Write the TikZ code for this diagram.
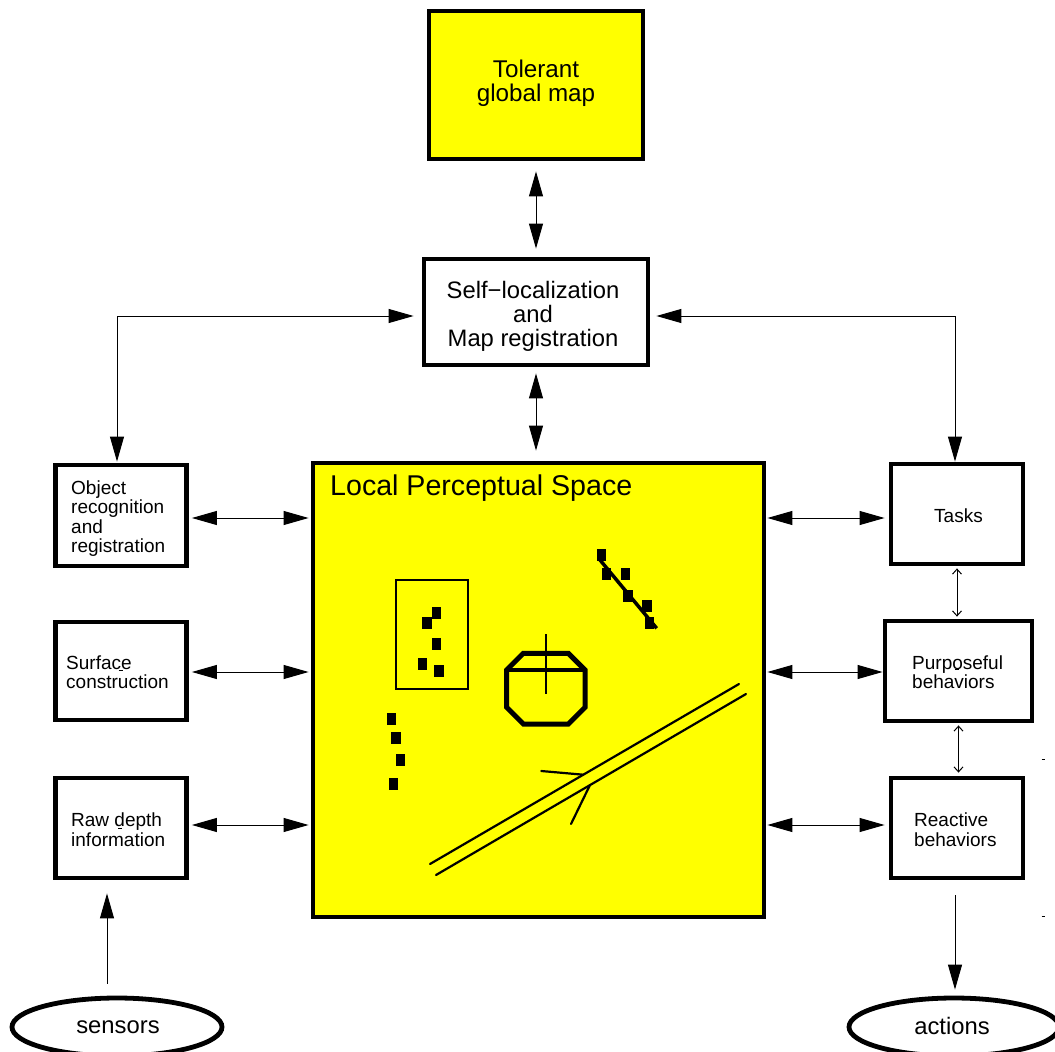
\documentclass[tikz,border=0pt]{standalone}
\usepackage{fontspec}
\setmainfont{Liberation Sans}
\usetikzlibrary{arrows.meta,shapes.geometric}
\definecolor{lpsyellow}{RGB}{255,255,0}
\newcommand{\txtsize}[2]{\fontsize{#1}{#2}\selectfont}
\tikzset{
  boxnode/.style={draw=black,line width=4.8,fill=white,inner sep=0,rectangle},
  yellowbox/.style={boxnode,fill=lpsyellow},
  ovalnode/.style={draw=black,line width=4.8,fill=white,inner sep=0,ellipse},
  txt/.style={inner sep=0,text=black,align=left,anchor=west},
  ctxt/.style={inner sep=0,text=black,align=center},
  bigdbl/.style={line width=1,{Stealth[length=25,width=14,inset=0]}-{Stealth[length=25,width=14,inset=0]}},
  bigone/.style={line width=1,-{Stealth[length=25,width=14,inset=0]}},
  smalldbl/.style={line width=1,{Straight Barb[length=5,width=9]}-{Straight Barb[length=5,width=9]}},
  grain/.style={fill=black,draw=none,minimum width=9.5,minimum height=12,inner sep=0,rectangle},
  wall/.style={line width=2.2,line cap=round},
  speck/.style={line width=1}
}
\begin{document}
\begin{tikzpicture}[x=1pt,y=-1pt]
\useasboundingbox (0,0) rectangle (1055,1052);
% boxes
\node[yellowbox,minimum width=214,minimum height=148] (tol) at (536,85) {};
\node[boxnode,minimum width=224,minimum height=106] (self) at (536,312) {};
\node[yellowbox,minimum width=451,minimum height=454] (lps) at (538.5,690) {};
\node[boxnode,minimum width=131,minimum height=101] (obj) at (121,515.5) {};
\node[boxnode,minimum width=131,minimum height=98] (surf) at (121,671) {};
\node[boxnode,minimum width=131,minimum height=100] (raw) at (121,828) {};
\node[boxnode,minimum width=132,minimum height=100] (tasks) at (957,514) {};
\node[boxnode,minimum width=147,minimum height=100] (purp) at (958.5,671) {};
\node[boxnode,minimum width=132,minimum height=100] (react) at (957,828) {};
\node[ovalnode,minimum width=210,minimum height=58] (sens) at (117,1027) {};
\node[ovalnode,minimum width=210,minimum height=58] (act) at (954,1027) {};
% texts
\node[ctxt,font=\txtsize{24.2}{24}] (toltxt) at (536,83.5) {Tolerant\\global map};
\node[ctxt,font=\txtsize{23.8}{24}] (selftxt) at (533,316) {Self−localization\\and\\Map registration};
\node[txt,font=\txtsize{28.6}{30}] (lpstxt) at (330,488) {Local Perceptual Space};
\node[txt,font=\txtsize{19}{19.4}] (objtxt) at (71,518.5) {Object\\recognition\\and\\registration};
\node[txt,font=\txtsize{19}{19.4}] (surftxt) at (66,672.5) {Surface\\construction};
\node[txt,font=\txtsize{19}{19.4}] (rawtxt) at (71,829.5) {Raw depth\\information};
\node[txt,font=\txtsize{19}{19.4}] (taskstxt) at (934,516) {Tasks};
\node[txt,font=\txtsize{19}{19.4}] (purptxt) at (912,672.5) {Purposeful\\behaviors};
\node[txt,font=\txtsize{19}{19.4}] (reacttxt) at (914,829.5) {Reactive\\behaviors};
\node[ctxt,font=\txtsize{23.8}{24}] (senstxt) at (118,1027) {sensors};
\node[ctxt,font=\txtsize{23.8}{24}] (acttxt) at (952,1026) {actions};
% vertical connectors
\draw[bigdbl,shorten <=10,shorten >=8] (536,0 |- tol.south) -- (536,0 |- self.north);
\draw[bigdbl,shorten <=6,shorten >=10] (536,0 |- self.south) -- (536,0 |- lps.north);
% elbows
\draw[bigdbl,shorten <=8,shorten >=1] (self.west |- 0,316) -| (117,0 |- obj.north);
\draw[bigdbl,shorten <=6,shorten >=0] (self.east |- 0,316) -| (955,0 |- tasks.north);
% horizontals
\draw[bigdbl,shorten <=3,shorten >=2] (obj.east |- 0,518) -- (lps.west |- 0,518);
\draw[bigdbl,shorten <=3,shorten >=2] (surf.east |- 0,672) -- (lps.west |- 0,672);
\draw[bigdbl,shorten <=3,shorten >=2] (raw.east |- 0,825) -- (lps.west |- 0,825);
\draw[bigdbl,shorten <=1,shorten >=4] (lps.east |- 0,518) -- (tasks.west |- 0,518);
\draw[bigdbl,shorten <=1,shorten >=0] (lps.east |- 0,672) -- (purp.west |- 0,672);
\draw[bigdbl,shorten <=1,shorten >=4] (lps.east |- 0,825) -- (react.west |- 0,825);
% small
\draw[smalldbl,shorten <=2,shorten >=2] (957,0 |- tasks.south) -- (957,0 |- purp.north);
\draw[smalldbl,shorten <=2,shorten >=3] (958.5,0 |- purp.south) -- (958.5,0 |- react.north);
% in/out
\draw[bigone,shorten <=12,shorten >=13] (107,0 |- sens.north) -- (107,0 |- raw.south);
\draw[bigone,shorten <=15,shorten >=6] (955,0 |- react.south) -- (955,0 |- act.north);
% stray marks
\draw[speck] (1041.5,759) -- (1044.5,759);
\draw[speck] (1041.5,916) -- (1044.5,916);
\draw[speck] (118,828.3) -- (122,828.3);
\draw[speck] (955,669) -- (959,669);
\draw[speck] (118.5,670.7) -- (122.5,670.7);
% scene
\draw[line width=1.7] (396,580) rectangle (468,689);
\foreach \n/\p in {a/{436.7,613},b/{427,622.7},c/{436.7,644.3},d/{422.3,663.7},e/{439,671},
  f/{391.3,719},g/{396,738.3},h/{400.7,760},i/{393.7,784.3},
  j/{601.7,555},k/{606.3,574.3},l/{625.3,574.3},m/{628,596},n/{647,605.7},o/{649.3,622.7}}
  \node[grain] (g\n) at (\p) {};
\draw[line width=3.5] (600,560) -- (656.7,628.3);
\draw[line width=5] (523.3,653.3) -- (568.3,653.3) -- (585,670) -- (585,707.3) -- (568.3,724) -- (523.3,724) -- (506.7,707.3) -- (506.7,670) -- cycle;
\draw[line width=3.5] (506.7,670) -- (585,670);
\draw[line width=2] (546.3,634) -- (546.3,694);
\draw[wall] (739,684) -- (430,864);
\draw[wall] (746,694) -- (436,875);
\draw[wall] (541.3,771) -- (583.3,774.7);
\draw[wall] (590,785) -- (571,824);
\end{tikzpicture}
\end{document}
